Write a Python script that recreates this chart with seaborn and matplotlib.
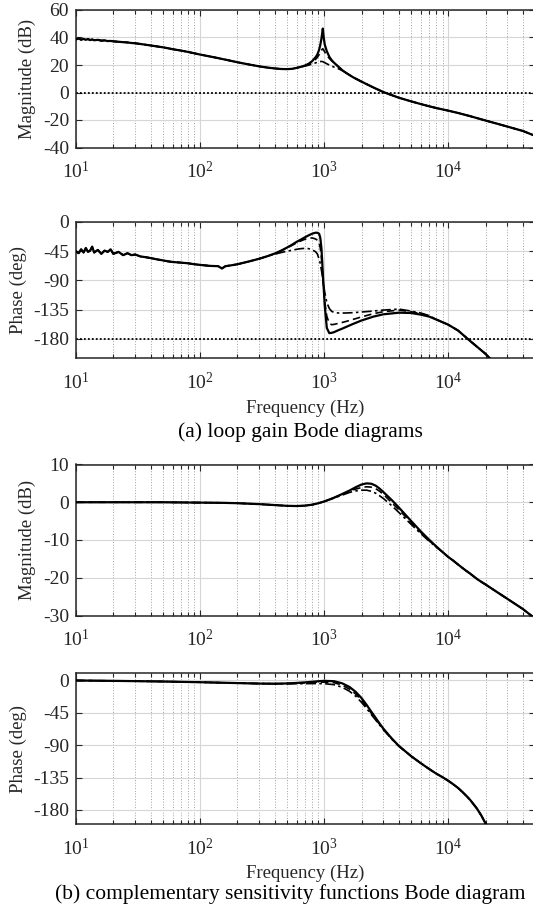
import matplotlib
matplotlib.use("Agg")
import matplotlib.pyplot as plt
import pandas as pd
import seaborn as sns
from matplotlib.ticker import LogLocator, NullFormatter, FixedLocator

# ---------------- (a) loop gain ----------------
# frequency grid pieces (Hz)
loop_f_low = [10, 10.5, 11, 11.5, 12, 12.5, 13, 13.5, 14, 15, 16, 17, 18, 19, 20,
              22, 24, 26, 28, 30, 33, 36, 40, 45, 50, 55, 60]
loop_f_mid = [70, 80, 90, 100, 120, 140, 150, 160, 180, 200, 250, 300, 350,
              400, 450, 500, 550, 600]
loop_f_res = [650, 700, 750, 800, 850, 880, 910, 930, 950, 965, 975, 990, 1010,
              1050, 1100, 1150, 1200, 1300, 1400, 1500, 1700, 2000, 2500, 3000,
              4000, 5000, 6000, 7000]
loop_f_high = [8000, 10000, 12000, 15000, 20000, 25000, 30000, 40000, 50000]

# loop gain magnitude (dB)
loop_mag_low = [38.6, 39.3, 38.4, 39.0, 38.3, 38.9, 38.1, 38.6, 38.0, 38.3, 37.7,
                37.9, 37.4, 37.5, 37.2, 36.9, 36.6, 36.4, 36.0, 35.8, 35.3, 34.8,
                34.2, 33.5, 32.9, 32.2, 31.5]
loop_mag_mid = [30.5, 29.5, 28.5, 27.6, 26.2, 25.0, 24.4, 23.9, 22.9, 22.0, 20.3,
                19.0, 18.1, 17.5, 17.1, 17.0, 17.2, 17.9]
loop_mag_res_solid = [18.7, 19.6, 20.9, 22.8, 25.5, 27.5, 31.0, 34.5, 39.0, 43.5,
                      46.5, 40.5, 35.0, 30.0, 26.0, 23.5, 21.7, 18.8, 16.2, 14.3,
                      11.2, 7.9, 3.6, 0.3, -3.8, -6.4, -8.4, -10.0]
loop_mag_res_dashed = [18.7, 19.5, 20.7, 22.3, 24.0, 25.5, 27.5, 29.0, 30.5, 31.5,
                       31.8, 31.0, 29.5, 27.0, 24.8, 23.0, 21.5, 18.8, 16.2, 14.3,
                       11.2, 7.9, 3.6, 0.3, -3.8, -6.4, -8.4, -10.0]
loop_mag_res_dashdot = [18.6, 19.2, 19.9, 20.7, 21.5, 22.0, 22.4, 22.5, 22.6, 22.5,
                        22.4, 22.1, 21.7, 20.9, 20.0, 19.2, 18.5, 17.3, 15.9, 14.3,
                        11.2, 7.9, 3.6, 0.3, -3.8, -6.4, -8.4, -10.0]
loop_mag_high = [-11.3, -13.2, -14.9, -17.2, -20.4, -22.8, -24.8, -28.0, -31.5]

# loop gain phase (deg)
loop_ph_low = [-45, -48, -42, -47, -40, -46, -44, -38, -47, -43, -49, -44, -46, -42,
               -49, -46, -51, -48, -51, -50, -53, -54, -55.5, -57.5, -59, -60.5, -61.5]
loop_ph_mid_common = [-62.5, -63.5, -65, -66, -67.5, -68, -71.5, -68, -66.5, -65,
                      -60.5, -56.5, -52.5]
loop_ph_mid_solid = [-48.5, -44, -39.5, -35, -30.5]
loop_ph_mid_dashed = [-48.5, -44.5, -40, -36, -32]
loop_ph_mid_dashdot = [-49.5, -47, -45, -43.5, -42]
loop_ph_res_solid = [-27, -23.5, -20.5, -18, -16.5, -16.5, -18, -24, -40, -62, -80,
                     -100, -128, -163, -171, -170.5, -169.5, -166.5, -164, -161.5,
                     -157, -151.5, -145.5, -142, -139.5, -140, -142.5, -145.5]
loop_ph_res_dashed = [-29, -26.5, -25, -24.5, -26, -28, -32, -40, -55, -72, -85,
                      -102, -122, -145, -156, -158, -157.5, -156, -154.5, -153,
                      -150, -146, -141, -138, -135.5, -138, -141, -144.5]
loop_ph_res_dashdot = [-41, -40.5, -41, -43, -45.5, -49, -57, -64, -74, -82, -88,
                       -97, -108, -124, -133, -137.5, -139, -140, -140, -140,
                       -139.5, -138.5, -137, -135.5, -134, -137, -140, -144]
loop_ph_high = [-150, -158, -167, -183, -203, -222, -240, -270, -300]

# ---------------- (b) complementary sensitivity ----------------
comp_f_low = [10, 20, 30, 50, 70, 100, 150, 200, 300, 400]
comp_f_mid = [500, 600, 700, 800, 900, 1000, 1200, 1400, 1600, 1800, 2000, 2200,
              2400, 2600, 2800, 3000, 3500, 4000, 5000, 6000, 7000, 8000]
comp_f_high = [9000, 10000, 11000, 12000, 13000, 14000, 15000, 17000, 18500,
               20000, 25000, 30000, 40000, 50000]

comp_mag_low = [0, 0, 0, 0, -0.05, -0.1, -0.15, -0.25, -0.5, -0.75]
comp_mag_mid_solid = [-0.95, -1.0, -0.9, -0.65, -0.25, 0.2, 1.2, 2.2, 3.1, 4.0,
                      4.7, 5.0, 4.9, 4.4, 3.6, 2.7, 0.6, -1.4, -4.9, -7.7, -9.9, -11.7]
comp_mag_mid_dashed = [-0.95, -1.0, -0.9, -0.65, -0.25, 0.2, 1.2, 2.1, 2.9, 3.5,
                       3.9, 4.1, 4.0, 3.6, 2.9, 2.1, -0.1, -2.0, -5.3, -8.0, -10.1, -11.8]
comp_mag_mid_dashdot = [-0.95, -1.0, -0.9, -0.65, -0.25, 0.2, 1.1, 1.9, 2.6, 3.0,
                        3.2, 3.2, 2.9, 2.4, 1.7, 1.0, -0.9, -2.7, -5.8, -8.3, -10.3, -11.9]
comp_mag_high = [-13.2, -14.5, -15.5, -16.5, -17.4, -18.2, -18.9, -20.3, -21.1,
                 -21.8, -23.9, -25.6, -28.3, -30.8]

comp_ph_low = [0, -0.5, -0.9, -1.4, -1.9, -2.4, -3.1, -3.6, -4.3, -4.5]
comp_ph_mid_solid = [-4.1, -3.4, -2.6, -1.8, -1.0, -0.5, -1.0, -4.0, -9.0, -16,
                     -24.5, -34, -43.5, -52, -60, -67, -80.5, -91, -105, -115, -123, -129.5]
comp_ph_mid_dashed = [-4.3, -3.9, -3.3, -2.8, -2.4, -2.2, -3.0, -6.5, -12, -19,
                      -27.5, -36.5, -45.5, -53.5, -61, -67.5, -81, -91, -105, -115, -123, -129.5]
comp_ph_mid_dashdot = [-4.5, -4.5, -4.4, -4.3, -4.3, -4.4, -5.8, -9.5, -15, -22,
                       -30.5, -39, -47.5, -55, -62, -68.5, -81.5, -91.5, -105, -115, -123, -129.5]
comp_ph_high = [-134.5, -139.5, -144.5, -149.5, -155, -160.5, -166, -178, -188,
                -199, -228, -250, -285, -315]

# reference levels drawn as dotted lines
mag_ref_db = 0
phase_ref_deg = -180

curve_order = ["dashdot", "dashed", "solid"]


def long_table(freq, series):
    rows = []
    for name, vals in series.items():
        for f, v in zip(freq, vals):
            rows.append({"freq": f, "value": v, "curve": name})
    return pd.DataFrame(rows)


loop_freq = loop_f_low + loop_f_mid + loop_f_res + loop_f_high
loop_mag = long_table(loop_freq, {
    "solid": loop_mag_low + loop_mag_mid + loop_mag_res_solid + loop_mag_high,
    "dashed": loop_mag_low + loop_mag_mid + loop_mag_res_dashed + loop_mag_high,
    "dashdot": loop_mag_low + loop_mag_mid + loop_mag_res_dashdot + loop_mag_high,
})
loop_ph = long_table(loop_freq, {
    "solid": loop_ph_low + loop_ph_mid_common + loop_ph_mid_solid + loop_ph_res_solid + loop_ph_high,
    "dashed": loop_ph_low + loop_ph_mid_common + loop_ph_mid_dashed + loop_ph_res_dashed + loop_ph_high,
    "dashdot": loop_ph_low + loop_ph_mid_common + loop_ph_mid_dashdot + loop_ph_res_dashdot + loop_ph_high,
})
comp_freq = comp_f_low + comp_f_mid + comp_f_high
comp_mag = long_table(comp_freq, {
    "solid": comp_mag_low + comp_mag_mid_solid + comp_mag_high,
    "dashed": comp_mag_low + comp_mag_mid_dashed + comp_mag_high,
    "dashdot": comp_mag_low + comp_mag_mid_dashdot + comp_mag_high,
})
comp_ph = long_table(comp_freq, {
    "solid": comp_ph_low + comp_ph_mid_solid + comp_ph_high,
    "dashed": comp_ph_low + comp_ph_mid_dashed + comp_ph_high,
    "dashdot": comp_ph_low + comp_ph_mid_dashdot + comp_ph_high,
})

sns.set_theme(style="ticks")
plt.rcParams["font.family"] = ["Liberation Serif", "DejaVu Serif"]
plt.rcParams["mathtext.fontset"] = "custom"
plt.rcParams["mathtext.rm"] = "Liberation Serif"
plt.rcParams["mathtext.it"] = "Liberation Serif:italic"
plt.rcParams["axes.unicode_minus"] = False

ink = "#262626"
fig = plt.figure(figsize=(5.33, 9.11), dpi=100)
W, H = 533, 911


def add_panel(top, bottom, left=76, right=535):
    return fig.add_axes([left / W, 1 - bottom / H, (right - left) / W, (bottom - top) / H])


dashes = {"solid": "", "dashed": (4.5, 2.5), "dashdot": (6, 2, 1.5, 2)}
widths = {"solid": 1.6, "dashed": 1.2, "dashdot": 1.2}

panels = [
    (add_panel(10, 147.5), loop_mag, (-40, 60), [-40, -20, 0, 20, 40, 60], "Magnitude (dB)", mag_ref_db, False),
    (add_panel(222, 358.5), loop_ph, (-210, 0), [-180, -135, -90, -45, 0], "Phase (deg)", phase_ref_deg, True),
    (add_panel(464.5, 615.5), comp_mag, (-30, 10), [-30, -20, -10, 0, 10], "Magnitude (dB)", None, False),
    (add_panel(673.3, 824.3), comp_ph, (-200, 10), [-180, -135, -90, -45, 0], "Phase (deg)", None, True),
]

for ax, df, ylim, yticks, ylabel, ref, show_xlabel in panels:
    ax.set_xscale("log")
    sns.lineplot(data=df, x="freq", y="value", style="curve", size="curve",
                 style_order=curve_order, size_order=curve_order,
                 dashes=dashes, sizes=widths, color="black",
                 estimator=None, sort=False, legend=False, ax=ax, zorder=3)
    if ref is not None:
        ax.axhline(ref, color="black", lw=1.3, ls=(0, (1, 1.2)), zorder=2)
    ax.set_xlim(10, 5e4)
    ax.set_ylim(*ylim)
    ax.yaxis.set_major_locator(FixedLocator(yticks))
    ax.xaxis.set_major_locator(LogLocator(base=10, numticks=10))
    ax.xaxis.set_minor_locator(LogLocator(base=10, subs=range(2, 10), numticks=20))
    ax.xaxis.set_minor_formatter(NullFormatter())
    ax.set_axisbelow(True)
    ax.grid(which="major", color="#d6d6d6", lw=0.8, ls="-")
    ax.grid(which="minor", axis="x", color="#a0a0a0", lw=0.7, ls=(0, (1, 1.8)))
    ax.tick_params(which="both", direction="in", top=True, right=True,
                   colors=ink, labelsize=14, width=0.8)
    ax.tick_params(which="major", length=4.5)
    ax.tick_params(which="minor", length=3)
    ax.tick_params(axis="x", which="major", pad=9.5)
    ax.tick_params(axis="y", which="major", pad=5)
    for s in ax.spines.values():
        s.set_color(ink)
        s.set_linewidth(1.1)
    ax.set_ylabel(ylabel, fontsize=13.5, color=ink)
    if show_xlabel:
        ax.set_xlabel("Frequency (Hz)", fontsize=13.5, color=ink)
        ax.xaxis.label.set_va("center")
    else:
        ax.set_xlabel("")

panels[0][0].yaxis.set_label_coords(-0.087, 0.5)
panels[1][0].yaxis.set_label_coords(-0.107, 0.5)
panels[2][0].yaxis.set_label_coords(-0.087, 0.5)
panels[3][0].yaxis.set_label_coords(-0.107, 0.5)
panels[1][0].xaxis.set_label_coords(0.5, -(408 - 358.5) / 136.5)
panels[3][0].xaxis.set_label_coords(0.5, -(873 - 824.3) / 151)

fig.text(300 / W, 1 - 432 / H, "(a) loop gain Bode diagrams", ha="center", va="center",
         fontsize=15.5, color="black")
fig.text(290 / W, 1 - 894 / H, "(b) complementary sensitivity functions Bode diagram",
         ha="center", va="center", fontsize=15.5, color="black")

fig.savefig("out.png", dpi=100)
